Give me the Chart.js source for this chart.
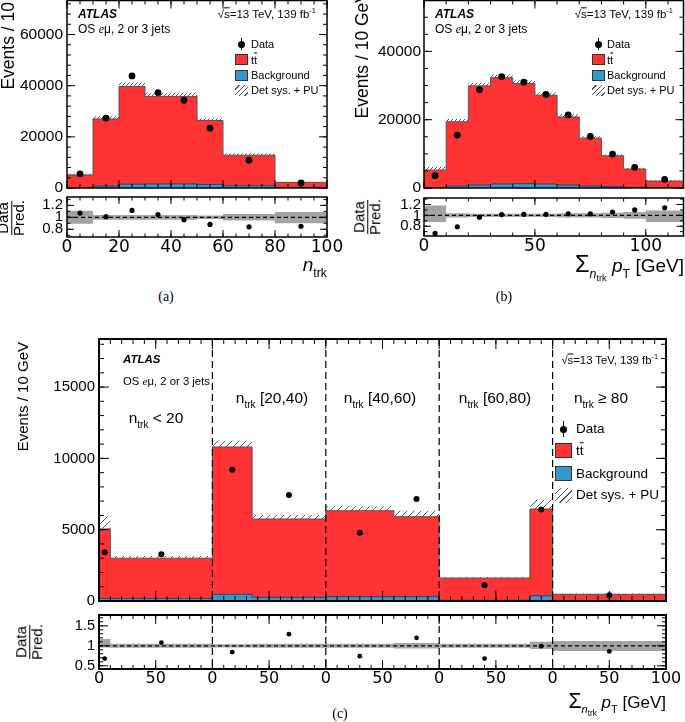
<!DOCTYPE html>
<html>
<head>
<meta charset="utf-8">
<script src="https://cdn.jsdelivr.net/npm/chart.js@4.4.1/dist/chart.umd.min.js"></script>
<style>
  html, body { margin: 0; padding: 0; background: #fff; }
  #fig { position: relative; width: 685px; height: 722px; overflow: hidden;
         font-family: "Liberation Sans", Arial, sans-serif; color: #000; }
  #fig canvas { position: absolute; }
  .lbl { position: absolute; white-space: nowrap; line-height: 1; transform-origin: 0 0; }
  .sub { font-size: 65%; position: relative; top: 0.45em; }
  .sub2 { font-size: 75%; position: relative; top: 0.35em; }
  .bar { text-decoration: overline; }
  .ser { font-family: "Liberation Serif", serif; font-style: italic; }
  .frac { display: inline-flex; flex-direction: column; align-items: center; line-height: 0.95; }
  .frac .num { border-bottom: 1.3px solid #000; padding: 0 1px 1px; }
  .swatch { position: absolute; box-sizing: border-box; }
</style>
</head>
<body>
<div id="fig"></div>
<script>
// ---- panel (a): n_trk distribution ----
const A_EDGES = [0, 10, 20, 30, 40, 50, 60, 80, 100];
const A_PRED = [5100, 27000, 39700, 35800, 35800, 26400, 12800, 2200];
const A_BKG = [100, 800, 1500, 1600, 1600, 1400, 900, 250];
const A_DATA_X = [5, 15, 25, 35, 45, 55, 70, 90];
const A_DATA = [5500, 27300, 43800, 37300, 34300, 23400, 10850, 1960];
const A_RATIO = [1.07, 1.01, 1.115, 1.045, 0.96, 0.88, 0.84, 0.85];
const A_UNC_UP = [0.11, 0.04, 0.04, 0.04, 0.04, 0.03, 0.055, 0.09];
const A_UNC_DN = [0.11, 0.04, 0.04, 0.04, 0.04, 0.03, 0.055, 0.10];
const A_X_TICKS = [0, 20, 40, 60, 80, 100];
const A_Y_TICKS = [0, 20000, 40000, 60000];

// ---- panel (b): sum pT distribution ----
const B_EDGES = [0, 10, 20, 30, 40, 50, 60, 70, 80, 90, 100, 117];
const B_PRED = [5260, 19400, 29900, 32300, 30600, 27150, 20800, 14600, 9430, 5550, 2040];
const B_BKG = [80, 580, 870, 1170, 1270, 1170, 870, 580, 390, 200, 70];
const B_DATA_X = [5, 15, 25, 35, 45, 55, 65, 75, 85, 95, 108.5];
const B_DATA = [3600, 15500, 28800, 32600, 31000, 27400, 21400, 15100, 9930, 6040, 2540];
const B_RATIO = [0.67, 0.79, 0.965, 1.015, 1.02, 1.02, 1.03, 1.03, 1.06, 1.10, 1.14];
const B_UNC_UP = [0.18, 0.04, 0.03, 0.03, 0.03, 0.03, 0.04, 0.04, 0.05, 0.06, 0.09];
const B_UNC_DN = [0.12, 0.04, 0.03, 0.03, 0.03, 0.03, 0.04, 0.04, 0.05, 0.06, 0.12];
const B_X_TICKS = [0, 50, 100];
const B_Y_TICKS = [0, 20000, 40000];

// ratio axes of (a) and (b)
const AB_RATIO_TICKS = [0.8, 1, 1.2];

// ---- panel (c): sum pT in n_trk slices (each slice spans 0-100 GeV) ----
const C_EDGES = [0, 10, 100, 135, 200, 260, 300, 380, 400, 500];
const C_PRED = [5050, 3000, 10800, 5750, 6330, 5910, 1610, 6450, 470];
const C_BKG = [180, 180, 470, 260, 300, 300, 50, 370, 30];
const C_DATA_X = [5, 55, 117.5, 167.5, 230, 280, 340, 390, 450];
const C_DATA = [3420, 3280, 9200, 7430, 4780, 7150, 1110, 6420, 410];
const C_RATIO = [0.68, 1.08, 0.84, 1.29, 0.74, 1.20, 0.68, 0.99, 0.86];
const C_UNC_UP = [0.17, 0.05, 0.04, 0.05, 0.05, 0.07, 0.05, 0.10, 0.12];
const C_UNC_DN = [0.04, 0.05, 0.04, 0.05, 0.05, 0.07, 0.05, 0.08, 0.13];
const C_SEPARATORS = [100, 200, 300, 400];
const C_X_TICKS = [0, 50, 100, 150, 200, 250, 300, 350, 400, 450, 500];
const C_X_TICK_LABELS = ['0', '50', '0', '50', '0', '50', '0', '50', '0', '50', '100'];
const C_Y_TICKS = [0, 5000, 10000, 15000];
const C_RATIO_TICKS = [0.5, 1, 1.5];
const C_SLICES = ['n<span class="sub">trk</span> &lt; 20', 'n<span class="sub">trk</span> [20,40)',
  'n<span class="sub">trk</span> [40,60)', 'n<span class="sub">trk</span> [60,80)', 'n<span class="sub">trk</span> &#8805; 80'];

const SANS = '"Liberation Sans", Arial, sans-serif';
const WIDE = '"DejaVu Sans", sans-serif';
const SERIF = '"Liberation Serif", serif';
const RED = '#ff3333';
const BLUE = '#3399cc';
const BAND = '#a3a3a3';

const fig = document.getElementById('fig');

function hatch(step, color) {
  const c = document.createElement('canvas');
  c.width = c.height = step;
  const g = c.getContext('2d');
  g.strokeStyle = color;
  g.lineWidth = 1;
  g.beginPath();
  g.moveTo(-1, step + 1); g.lineTo(step + 1, -1);
  g.moveTo(-1, 1); g.lineTo(1, -1);
  g.moveTo(step - 1, step + 1); g.lineTo(step + 1, step - 1);
  g.stroke();
  return g.createPattern(c, 'repeat');
}

/** Histogram as step points: one point per bin edge, last value repeated at the end. */
function steps(edges, vals) {
  const pts = vals.map((v, i) => ({ x: edges[i], y: v }));
  pts.push({ x: edges[edges.length - 1], y: vals[vals.length - 1] });
  return pts;
}

function minorValues(scale, step) {
  const out = [];
  if (!step) return out;
  for (let k = Math.ceil(scale.min / step - 1e-9); k * step <= scale.max + 1e-9; k++) out.push(k * step);
  return out;
}

// ROOT-style frame: box on all sides, inward major/minor ticks, optional dashed separators
Chart.register({
  id: 'rootFrame',
  afterDatasetsDraw(chart, args, o) {
    const { ctx, chartArea: a, scales: { x, y } } = chart;
    ctx.save();
    ctx.strokeStyle = '#000';
    if (o.separators) {
      ctx.lineWidth = 1.2;
      ctx.setLineDash([7, 4]);
      ctx.beginPath();
      o.separators.forEach((v) => {
        const p = x.getPixelForValue(v);
        ctx.moveTo(p, a.top); ctx.lineTo(p, a.bottom);
      });
      ctx.stroke();
      ctx.setLineDash([]);
    }
    ctx.lineWidth = 1;
    ctx.beginPath();
    const xMarks = (vals, len) => vals.forEach((v) => {
      const p = x.getPixelForValue(v);
      ctx.moveTo(p, a.bottom); ctx.lineTo(p, a.bottom - len);
      ctx.moveTo(p, a.top); ctx.lineTo(p, a.top + len);
    });
    const yMarks = (vals, len) => vals.forEach((v) => {
      const p = y.getPixelForValue(v);
      ctx.moveTo(a.left, p); ctx.lineTo(a.left + len, p);
      ctx.moveTo(a.right, p); ctx.lineTo(a.right - len, p);
    });
    xMarks(x.ticks.map((t) => t.value), o.major);
    yMarks(y.ticks.map((t) => t.value), o.major);
    xMarks(minorValues(x, o.xMinor), o.minor);
    yMarks(minorValues(y, o.yMinor), o.minor);
    ctx.stroke();
    ctx.lineWidth = o.width || 1.5;
    ctx.strokeRect(a.left, a.top, a.right - a.left, a.bottom - a.top);
    ctx.restore();
  },
});

/**
 * Builds one chart whose plot area lands on a fixed rectangle of the figure.
 * box = canvas [left, top, width, height], area = plot [left, top, right, bottom].
 */
function build(p) {
  const [cx, cy, cw, ch] = p.box;
  const [L, T, R, B] = p.area;
  const canvas = document.createElement('canvas');
  canvas.width = cw; canvas.height = ch;
  Object.assign(canvas.style, { left: cx + 'px', top: cy + 'px', width: cw + 'px', height: ch + 'px' });
  fig.appendChild(canvas);
  return new Chart(canvas, {
    type: 'line',
    data: { datasets: p.datasets },
    options: {
      responsive: false,
      animation: false,
      devicePixelRatio: 1,
      layout: { autoPadding: false, padding: { left: 0, top: T - cy, right: cx + cw - R, bottom: 0 } },
      elements: { point: { radius: 0 }, line: { tension: 0 } },
      plugins: { legend: { display: false }, tooltip: { enabled: false }, rootFrame: p.frame },
      scales: {
        x: {
          type: 'linear', min: p.x.min, max: p.x.max,
          afterBuildTicks: (s) => { s.ticks = p.x.ticks.map((value) => ({ value })); },
          afterFit: (s) => { s.height = cy + ch - B; s.paddingLeft = 0; s.paddingRight = 0; },
          grid: { display: false, drawTicks: false },
          border: { display: false },
          ticks: {
            display: !!p.x.labels, autoSkip: false, maxRotation: 0, padding: p.x.pad ?? 1,
            color: '#000', font: { family: WIDE, size: p.x.size || 16 },
            callback: p.x.labels || ((v) => String(v)),
          },
        },
        y: {
          type: 'linear', min: p.y.min, max: p.y.max,
          afterBuildTicks: (s) => { s.ticks = p.y.ticks.map((value) => ({ value })); },
          afterFit: (s) => { s.width = L - cx; s.paddingTop = 0; s.paddingBottom = 0; },
          grid: { display: false, drawTicks: false },
          border: { display: false },
          ticks: {
            autoSkip: false, padding: p.y.pad || 4, color: '#000',
            font: { family: SANS, size: p.y.size || 15 },
            callback: (v) => String(+v.toFixed(2)),
          },
        },
      },
    },
  });
}

function mainSets(edges, pred, bkg, up, dataX, data, dotR, pattern) {
  return [
    { data: dataX.map((x, i) => ({ x, y: data[i] })), showLine: false, pointRadius: dotR,
      pointBackgroundColor: '#000', pointBorderWidth: 0, order: 0 },
    { data: steps(edges, bkg), stepped: 'before', fill: 'origin', backgroundColor: BLUE,
      borderColor: '#20466b', borderWidth: 1, order: 1 },
    { data: steps(edges, pred), stepped: 'before', fill: 'origin', backgroundColor: RED,
      borderColor: '#555', borderWidth: 1, order: 2 },
    { data: steps(edges, pred.map((v, i) => v * (1 + up[i]))), stepped: 'before', fill: 2,
      backgroundColor: pattern, borderColor: 'rgba(0,0,0,0)', borderWidth: 1, order: 3 },
  ];
}

function ratioSets(edges, dataX, ratio, up, dn, dotR) {
  return [
    { data: dataX.map((x, i) => ({ x, y: ratio[i] })), showLine: false, pointRadius: dotR,
      pointBackgroundColor: '#000', pointBorderWidth: 0, order: 0 },
    { data: [{ x: edges[0], y: 1 }, { x: edges[edges.length - 1], y: 1 }], borderColor: '#000',
      borderWidth: 1.2, borderDash: [4, 3], order: 1 },
    { data: steps(edges, dn.map((d) => 1 - d)), stepped: 'before', borderColor: 'rgba(0,0,0,0)',
      fill: false, order: 3 },
    { data: steps(edges, up.map((u) => 1 + u)), stepped: 'before', borderColor: 'rgba(0,0,0,0)',
      fill: 2, backgroundColor: BAND, order: 2 },
  ];
}

// ---------- charts ----------
const hatchSmall = hatch(4, '#555');
const hatchBig = hatch(7, '#555');

build({
  box: [0, 0, 345, 195], area: [67, 0.5, 327, 188],
  x: { min: 0, max: 100, ticks: A_X_TICKS }, y: { min: 0, max: 73300, ticks: A_Y_TICKS, size: 15.5 },
  frame: { major: 8, minor: 4, xMinor: 5, yMinor: 4000 },
  datasets: mainSets(A_EDGES, A_PRED, A_BKG, A_UNC_UP, A_DATA_X, A_DATA, 3.4, hatchSmall),
});
build({
  box: [0, 190, 345, 70], area: [67, 197, 327, 237],
  x: { min: 0, max: 100, ticks: A_X_TICKS, size: 17, pad: 0, labels: (v) => String(v) },
  y: { min: 0.67, max: 1.34, ticks: AB_RATIO_TICKS, size: 15 },
  frame: { major: 7, minor: 3.5, xMinor: 5, yMinor: 0.1 },
  datasets: ratioSets(A_EDGES, A_DATA_X, A_RATIO, A_UNC_UP, A_UNC_DN, 2.6),
});
build({
  box: [340, 0, 345, 195], area: [424, 0.5, 683.5, 188],
  x: { min: 0, max: 117, ticks: B_X_TICKS }, y: { min: 0, max: 54900, ticks: B_Y_TICKS, size: 15.5, pad: 3 },
  frame: { major: 8, minor: 4, xMinor: 10, yMinor: 5000 },
  datasets: mainSets(B_EDGES, B_PRED, B_BKG, B_UNC_UP, B_DATA_X, B_DATA, 3.4, hatchSmall),
});
build({
  box: [340, 190, 345, 70], area: [424, 198, 683.5, 236],
  x: { min: 0, max: 117, ticks: B_X_TICKS, size: 17, pad: 0, labels: (v) => String(v) },
  y: { min: 0.62, max: 1.32, ticks: AB_RATIO_TICKS, size: 15, pad: 3 },
  frame: { major: 7, minor: 3.5, xMinor: 10, yMinor: 0.1 },
  datasets: ratioSets(B_EDGES, B_DATA_X, B_RATIO, B_UNC_UP, B_UNC_DN, 2.6),
});
build({
  box: [0, 330, 685, 275], area: [99, 339, 666, 601],
  x: { min: 0, max: 500, ticks: C_X_TICKS }, y: { min: 0, max: 18370, ticks: C_Y_TICKS, size: 15 },
  frame: { major: 10, minor: 5, xMinor: 10, yMinor: 1000, width: 2, separators: C_SEPARATORS },
  datasets: mainSets(C_EDGES, C_PRED, C_BKG, C_UNC_UP, C_DATA_X, C_DATA, 3, hatchBig),
});
build({
  box: [0, 605, 685, 90], area: [99, 615, 666, 669],
  x: { min: 0, max: 500, ticks: C_X_TICKS, size: 16, pad: 0, labels: (v, i) => C_X_TICK_LABELS[i] },
  y: { min: 0.42, max: 1.77, ticks: C_RATIO_TICKS, size: 14.5 },
  frame: { major: 9, minor: 4, xMinor: 10, yMinor: 0.1, width: 2, separators: C_SEPARATORS },
  datasets: ratioSets(C_EDGES, C_DATA_X, C_RATIO, C_UNC_UP, C_UNC_DN, 2.4),
});

// ---------- text ----------
function text(html, x, y, o = {}) {
  const el = document.createElement('div');
  el.className = 'lbl';
  el.innerHTML = html;
  el.style.left = x + 'px';
  el.style.top = y + 'px';
  el.style.fontSize = (o.size || 12) + 'px';
  if (o.family) el.style.fontFamily = o.family;
  if (o.bold) el.style.fontWeight = 'bold';
  if (o.italic) el.style.fontStyle = 'italic';
  const dx = { left: '0', center: '-50%', right: '-100%' }[o.align || 'left'];
  el.style.transform = (o.rotate ? 'rotate(-90deg) ' : '') + `translate(${dx}, -50%)`;
  fig.appendChild(el);
  return el;
}

function swatch(x, y, w, h, css) {
  const el = document.createElement('div');
  el.className = 'swatch';
  Object.assign(el.style, { left: x + 'px', top: y + 'px', width: w + 'px', height: h + 'px' }, css);
  fig.appendChild(el);
}

function legend(bx, bw, bh, tx, ys, size, dot) {
  const cxm = bx + bw / 2;
  swatch(cxm - 0.6, ys[0] - bh * 0.55, 1.2, bh * 1.1, { background: '#000' });
  swatch(cxm - dot / 2, ys[0] - dot / 2, dot, dot, { background: '#000', borderRadius: '50%' });
  swatch(bx, ys[1] - bh / 2, bw, bh, { background: RED, border: '1px solid #333' });
  swatch(bx, ys[2] - bh / 2, bw, bh, { background: BLUE, border: '1px solid #333' });
  swatch(bx, ys[3] - bh / 2, bw, bh,
    { background: `repeating-linear-gradient(135deg, transparent 0 ${bh / 4}px, #555 ${bh / 4}px ${bh / 4 + 1}px)` });
  text('Data', tx, ys[0], { size });
  text('t<span class="bar">t</span>', tx, ys[1], { size });
  text('Background', tx, ys[2], { size });
  text('Det sys. + PU', tx, ys[3], { size });
}

const OS = 'OS <span class="ser">e</span>&mu;, 2 or 3 jets';
const LUMI = '&radic;<span class="bar">s</span>=13 TeV, 139 fb<sup style="font-size:65%">-1</sup>';
const RATIO_TITLE = '<span class="frac"><span class="num">Data</span><span>Pred.</span></span>';
const SUMPT = '<span style="font-size:125%">&Sigma;</span><span class="sub"><i>n</i><span class="sub2">trk</span></span>'
  + ' <i>p</i><span class="sub">T</span> [GeV]';

// (a)
text('ATLAS', 78, 14, { size: 12, bold: true, italic: true });
text(OS, 78, 29, { size: 12 });
text(LUMI, 316, 14, { size: 11.5, align: 'right' });
legend(235, 13, 11, 251, [44, 59.5, 75, 90], 11, 7);
text('Events / 10', 9, 2, { size: 17.5, rotate: true, align: 'right' });
text(RATIO_TITLE, 11, 218, { size: 15, rotate: true, align: 'center' });
text('<i>n</i><span class="sub">trk</span>', 327, 264, { size: 19, align: 'right' });
text('(a)', 166, 297, { size: 14, family: SERIF, align: 'center' });

// (b)
text('ATLAS', 435, 14, { size: 12, bold: true, italic: true });
text(OS, 435, 29, { size: 12 });
text(LUMI, 673, 14, { size: 11.5, align: 'right' });
legend(592, 13, 11, 607, [44, 59.5, 75, 90], 11, 7);
text('Events / 10 GeV', 363, -9, { size: 17.5, rotate: true, align: 'right' });
text(RATIO_TITLE, 367, 217, { size: 15, rotate: true, align: 'center' });
text(SUMPT, 684, 264, { size: 19, align: 'right' });
text('(b)', 504, 297, { size: 14, family: SERIF, align: 'center' });

// (c)
text('ATLAS', 123, 360, { size: 11.5, bold: true, italic: true });
text(OS, 123, 382, { size: 11.3 });
text(LUMI, 658, 360, { size: 11.3, align: 'right' });
const SLICE_POS = [[156, 418], [272, 398], [380, 398], [495, 398], [601, 398]];
C_SLICES.forEach((s, i) => text(s, SLICE_POS[i][0], SLICE_POS[i][1], { size: 15.5, align: 'center' }));
legend(555, 17, 15, 576, [429, 450.5, 473.5, 495], 13.5, 7);
text('Events / 10 GeV', 22, 342, { size: 15, rotate: true, align: 'right' });
text(RATIO_TITLE, 29, 642, { size: 15, rotate: true, align: 'center' });
text(SUMPT, 666, 702, { size: 17, align: 'right' });
text('(c)', 340, 714, { size: 14, family: SERIF, align: 'center' });
</script>
</body>
</html>
